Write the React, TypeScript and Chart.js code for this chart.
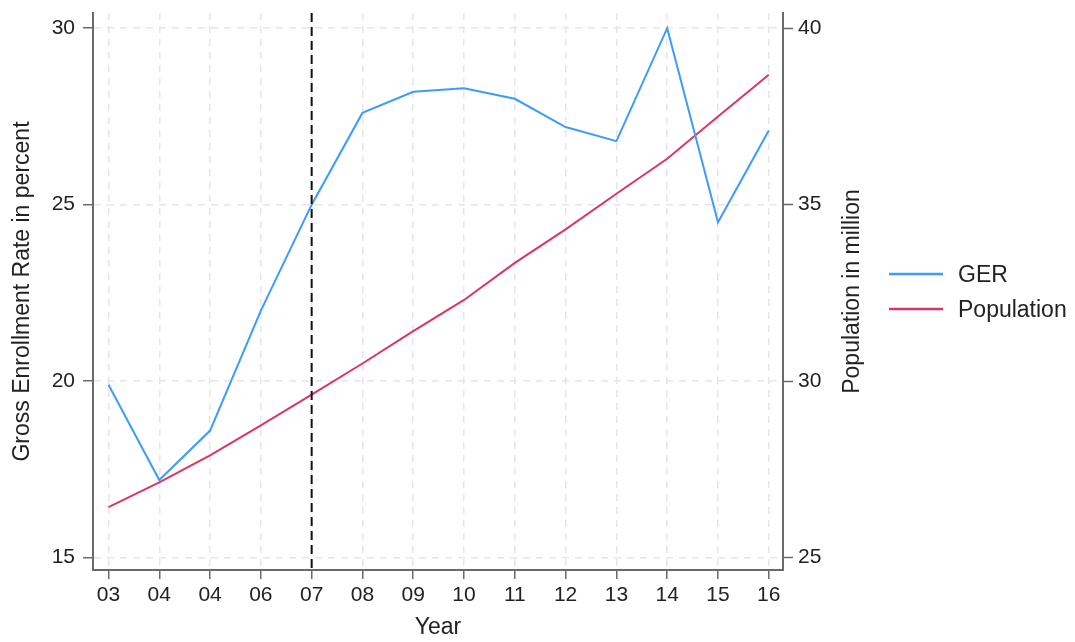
import React, { useEffect, useRef } from "react";
import { Chart, registerables } from "chart.js";

Chart.register(...registerables);

const yearLabels = ["03", "04", "04", "06", "07", "08", "09", "10", "11", "12", "13", "14", "15", "16"];
const gerValues = [19.9, 17.2, 18.6, 22.0, 25.0, 27.6, 28.2, 28.3, 28.0, 27.2, 26.8, 30.0, 24.5, 27.1];
const populationValues = [26.43, 27.13, 27.9, 28.75, 29.62, 30.5, 31.42, 32.3, 33.35, 34.3, 35.31, 36.3, 37.5, 38.68];
const leftTicks = [15, 20, 25, 30];
const rightTicks = [25, 30, 35, 40];
const markerIndex = 4; // "07"
const seriesNames = ["GER", "Population"];
const seriesColors = ["#3d9bff", "#dc3565"];
const leftTitle = "Gross Enrollment Rate in percent";
const rightTitle = "Population in million";
const xTitle = "Year";

const FONT = "'Liberation Sans', Arial, Helvetica, sans-serif";
const GRID = "#e6e6e6";
const AXIS = "#6a6a6a";

const extrasPlugin = {
  id: "extras",
  afterDatasetsDraw(chart: any) {
    const { ctx, chartArea } = chart;
    const x = chart.scales.x.getPixelForValue(markerIndex);
    ctx.save();
    ctx.strokeStyle = "#111";
    ctx.lineWidth = 2;
    ctx.setLineDash([9, 5]);
    ctx.beginPath();
    ctx.moveTo(x, chartArea.top);
    ctx.lineTo(x, chartArea.bottom);
    ctx.stroke();
    ctx.restore();
  },
  afterDraw(chart: any) {
    const { ctx, chartArea } = chart;
    ctx.save();
    // right axis title (reads bottom-to-top)
    ctx.fillStyle = "#222";
    ctx.font = `23px ${FONT}`;
    ctx.textAlign = "center";
    ctx.textBaseline = "middle";
    ctx.translate(853, (chartArea.top + chartArea.bottom) / 2);
    ctx.rotate(-Math.PI / 2);
    ctx.fillText(rightTitle, 0, 0);
    ctx.restore();

    // legend
    ctx.save();
    ctx.font = `23px ${FONT}`;
    ctx.textAlign = "left";
    ctx.textBaseline = "middle";
    chart.data.datasets.forEach((ds: any, i: number) => {
      const y = 274 + i * 35;
      ctx.strokeStyle = ds.borderColor;
      ctx.lineWidth = 2.5;
      ctx.setLineDash([]);
      ctx.beginPath();
      ctx.moveTo(889, y);
      ctx.lineTo(943, y);
      ctx.stroke();
      ctx.fillStyle = "#222";
      ctx.fillText(ds.label, 958, y + 2);
    });
    ctx.restore();
  },
};

export default function App() {
  const ref = useRef<HTMLCanvasElement | null>(null);

  useEffect(() => {
    if (!ref.current) return;
    const chart = new Chart(ref.current, {
      type: "line",
      data: {
        datasets: [
          {
            label: seriesNames[0],
            data: gerValues.map((v, i) => ({ x: i, y: v })),
            borderColor: seriesColors[0],
            backgroundColor: seriesColors[0],
            borderWidth: 2,
            pointRadius: 0,
            tension: 0,
            yAxisID: "y",
          },
          {
            label: seriesNames[1],
            data: populationValues.map((v, i) => ({ x: i, y: v })),
            borderColor: seriesColors[1],
            backgroundColor: seriesColors[1],
            borderWidth: 2,
            pointRadius: 0,
            tension: 0,
            yAxisID: "y1",
          },
        ],
      },
      options: {
        responsive: false,
        animation: false,
        layout: { padding: { top: 13, right: 204, left: 0, bottom: 0 } },
        plugins: {
          legend: { display: false },
          tooltip: { enabled: false },
        },
        scales: {
          x: {
            type: "linear",
            position: "bottom",
            min: -0.305,
            max: 13.28,
            afterBuildTicks: (s: any) => {
              s.ticks = yearLabels.map((_, i) => ({ value: i }));
            },
            afterFit: (s: any) => {
              s.height = 72;
              s.paddingLeft = 0;
              s.paddingRight = 0;
            },
            ticks: {
              callback: (v: any) => yearLabels[Math.round(Number(v))],
              font: { family: FONT, size: 21 },
              color: "#222",
              padding: 4,
              maxRotation: 0,
              autoSkip: false,
            },
            grid: {
              color: GRID,
              lineWidth: 1.5,
              tickLength: 9,
              tickColor: AXIS,
              tickWidth: 1.5,
            },
            border: { display: true, color: AXIS, width: 2, dash: [7, 6] },
            title: {
              display: true,
              text: xTitle,
              font: { family: FONT, size: 23 },
              color: "#222",
              padding: { top: 2, bottom: 1 },
            },
          },
          y: {
            type: "linear",
            position: "left",
            min: 14.65,
            max: 30.43,
            afterBuildTicks: (s: any) => {
              s.ticks = leftTicks.map((v) => ({ value: v }));
            },
            afterFit: (s: any) => {
              s.width = 93;
              s.paddingTop = 0;
              s.paddingBottom = 0;
            },
            ticks: {
              font: { family: FONT, size: 21 },
              color: "#222",
              padding: 8,
            },
            grid: {
              color: GRID,
              lineWidth: 1.5,
              tickLength: 10,
              tickColor: AXIS,
              tickWidth: 1.5,
            },
            border: { display: true, color: AXIS, width: 2, dash: [7, 6] },
            title: {
              display: true,
              text: leftTitle,
              font: { family: FONT, size: 23 },
              color: "#222",
              padding: { top: 9, bottom: 0 },
            },
          },
          y1: {
            type: "linear",
            position: "right",
            min: 24.65,
            max: 40.43,
            afterBuildTicks: (s: any) => {
              s.ticks = rightTicks.map((v) => ({ value: v }));
            },
            afterFit: (s: any) => {
              s.width = 88;
              s.paddingTop = 0;
              s.paddingBottom = 0;
            },
            ticks: {
              font: { family: FONT, size: 21 },
              color: "#222",
              padding: 5,
            },
            grid: {
              drawOnChartArea: false,
              tickLength: 10,
              tickColor: AXIS,
              tickWidth: 1.5,
            },
            border: { display: true, color: AXIS, width: 2 },
          },
        },
      },
      plugins: [extrasPlugin],
    } as any);
    return () => chart.destroy();
  }, []);

  return (
    <div style={{ position: "absolute", left: 0, top: 0, width: 1075, height: 642, background: "#fff" }}>
      <canvas ref={ref} width={1075} height={642} style={{ display: "block" }} />
    </div>
  );
}
